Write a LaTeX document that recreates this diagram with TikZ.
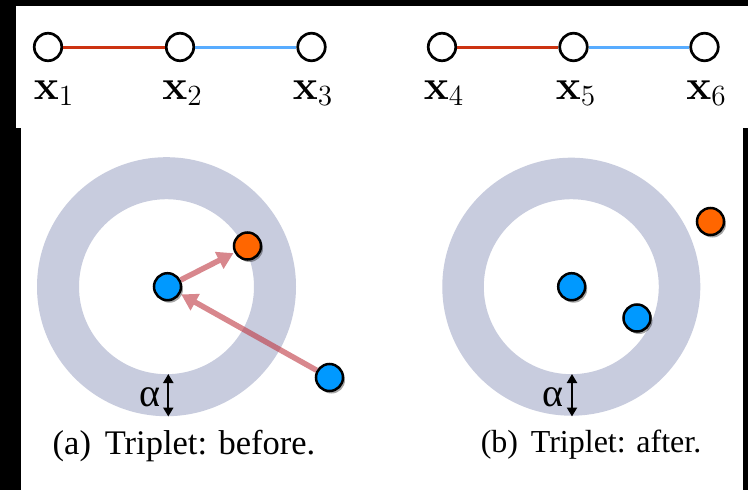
\documentclass[tikz,border=0pt]{standalone}
\usepackage[no-math]{fontspec}
\setmainfont{Liberation Serif}
\usetikzlibrary{arrows.meta,shadows}
\definecolor{ringc}{RGB}{200,204,222}
\definecolor{dotblue}{RGB}{0,153,255}
\definecolor{dotorange}{RGB}{255,102,0}
\definecolor{edgered}{RGB}{204,51,17}
\definecolor{edgeblue}{RGB}{88,172,255}
\definecolor{arrowc}{RGB}{190,55,65}
\pgfdeclarelayer{back}
\pgfdeclarelayer{mid}
\pgfsetlayers{back,mid,main}
\begin{document}
\begin{tikzpicture}[x=1pt,y=-1pt,
  opennode/.style={circle,draw=black,line width=2.7pt,fill=white,minimum size=27.5pt,inner sep=0pt},
  dot/.style={circle,draw=black,line width=2.5pt,minimum size=27pt,inner sep=0pt,
    drop shadow={shadow xshift=2pt,shadow yshift=-2.5pt,opacity=0.35,fill=black}},
  lab/.style={anchor=base,inner sep=0pt,font=\fontsize{20.74}{25}\selectfont,scale=2.03},
  alphalab/.style={anchor=base,inner sep=0pt,font=\fontsize{40}{44}\selectfont},
  redline/.style={edgered,line width=3pt},
  blueline/.style={edgeblue,line width=3pt},
  pull/.style={arrowc,line width=5.5pt,shorten >=1pt,
    -{Triangle[length=16pt,width=18pt]}},
  margin/.style={black,line width=2.2pt,
    {Triangle[length=9pt,width=10pt]}-{Triangle[length=9pt,width=10pt]}}
]
\useasboundingbox (0,0) rectangle (748,490);
\begin{pgfonlayer}{back}
  \fill[black] (0,0) rectangle (748,490);
  \fill[white] (16,6) rectangle (748,128);
  \fill[white] (21,128) rectangle (743,490);
  \fill[ringc,even odd rule] (166.5,286.7) circle[radius=129.5pt] (166.5,286.7) circle[radius=87.5pt];
  \fill[ringc,even odd rule] (571.3,286.7) circle[radius=129pt] (571.3,286.7) circle[radius=87.5pt];
\end{pgfonlayer}

% top row
\node[opennode] (n1) at (48,47) {};
\node[opennode] (n2) at (180,47) {};
\node[opennode] (n3) at (311.5,47) {};
\node[opennode] (n4) at (442,47) {};
\node[opennode] (n5) at (573.5,47) {};
\node[opennode] (n6) at (704.5,47) {};
\draw[redline] (n1) -- (n2);
\draw[blueline] (n2) -- (n3);
\draw[redline] (n4) -- (n5);
\draw[blueline] (n5) -- (n6);
\node[lab] (l1) at (54,99) {$\mathbf{x}_1$};
\node[lab] (l2) at (182.5,99) {$\mathbf{x}_2$};
\node[lab] (l3) at (313,99) {$\mathbf{x}_3$};
\node[lab] (l4) at (444,99) {$\mathbf{x}_4$};
\node[lab] (l5) at (576,99) {$\mathbf{x}_5$};
\node[lab] (l6) at (706.5,99) {$\mathbf{x}_6$};

% panel (a)
\node[dot,fill=dotblue] (ac) at (167.5,286.7) {};
\node[dot,fill=dotorange] (ao) at (247.5,246) {};
\node[dot,fill=dotblue] (an) at (329.5,377.5) {};
\begin{pgfonlayer}{mid}
  \begin{scope}[transparency group,opacity=0.6]
    \draw[pull] (ac) -- (ao);
  \end{scope}
  \begin{scope}[transparency group,opacity=0.6]
    \draw[pull] (an) -- (ac);
  \end{scope}
\end{pgfonlayer}
\coordinate (da1) at (168.3,374);
\coordinate (da2) at (168.3,416.5);
\draw[margin] (da1) -- (da2);
\node[alphalab] (ala) at (150,406) {α};
\node[anchor=base,inner sep=0pt,font=\fontsize{34.5}{40}\selectfont] (capa) at (184,454) {(a)\hspace{0.4em}Triplet: before.};

% panel (b)
\node[dot,fill=dotblue] (bc) at (571.7,286.7) {};
\node[dot,fill=dotblue] (bn) at (637,318) {};
\node[dot,fill=dotorange] (bo) at (710.5,221.5) {};
\coordinate (db1) at (572,374);
\coordinate (db2) at (572,416.5);
\draw[margin] (db1) -- (db2);
\node[alphalab] (alb) at (553,406) {α};
\node[anchor=base,inner sep=0pt,font=\fontsize{32}{38}\selectfont] (capb) at (591,452) {(b)\hspace{0.4em}Triplet: after.};
\end{tikzpicture}
\end{document}
